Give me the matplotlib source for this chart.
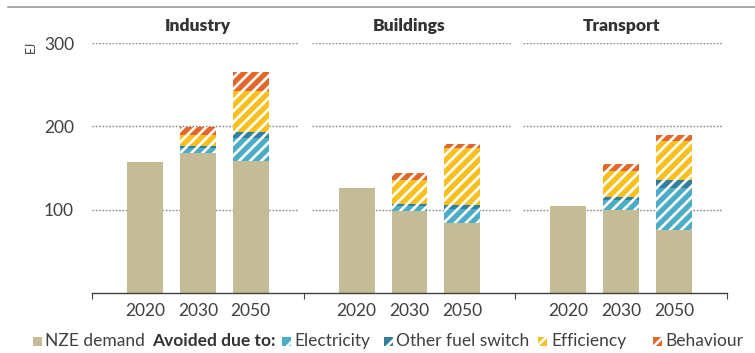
import matplotlib
matplotlib.use("Agg")
import matplotlib.pyplot as plt
from matplotlib.patches import Rectangle
from matplotlib.lines import Line2D
import numpy as np

# ---------------- data ----------------
sectors = ["Industry", "Buildings", "Transport"]
years = ["2020", "2030", "2050"]
nze_demand = [[157, 168, 158], [126, 98, 84], [105, 100, 76]]
electricity = [[0, 6, 28], [0, 7, 17], [0, 12, 50]]
other_fuel_switch = [[0, 2, 7], [0, 2, 5], [0, 3, 10]]
efficiency = [[0, 14, 49], [0, 29, 68], [0, 31, 46]]
behaviour = [[0, 9, 23], [0, 8, 5], [0, 9, 8]]
y_ticks = [100, 200, 300]

# ---------------- style ----------------
plt.rcParams['font.family'] = ['Lato', 'DejaVu Sans']
plt.rcParams['hatch.linewidth'] = 1.9
C_NZE = "#c4bc96"
C_ELEC = "#4bacc6"
C_OFS = "#2f7f9f"
C_EFF = "#f8c01e"
C_BEH = "#e2672b"
TXT = "#404040"
HATCH = "///"

fig = plt.figure(figsize=(7.55, 3.53), dpi=100)
ax = fig.add_axes([92/755, 60/353, 635/755, 250/353])

panel_w = 4
bar_w = 0.68
for p in range(len(sectors)):
    xs = p * panel_w + np.arange(1, 4)
    x0 = p * panel_w + (0.0 if p == 0 else 0.15)
    x1 = p * panel_w + 3.9
    for yt in y_ticks:
        ax.hlines(yt, x0, x1, colors="#8a8a8a", linestyles=(0, (1.2, 1.2)), lw=1.0, zorder=0)
    bottom = np.zeros(3)
    ax.bar(xs, nze_demand[p], bar_w, color=C_NZE, lw=0, zorder=2)
    bottom += np.array(nze_demand[p])
    for vals, col in [(electricity, C_ELEC), (other_fuel_switch, C_OFS),
                      (efficiency, C_EFF), (behaviour, C_BEH)]:
        v = np.array(vals[p])
        ax.bar(xs, v, bar_w, bottom=bottom, color=col, edgecolor="white",
               hatch=HATCH, lw=0, zorder=2)
        bottom += v
    ax.text(p * panel_w + 2, 320, sectors[p], ha="center", va="center",
            fontsize=12.5, fontweight="heavy", color="#333333")

ax.set_xlim(0, 12)
ax.set_ylim(0, 300)
for s in ["left", "right", "top"]:
    ax.spines[s].set_visible(False)
ax.spines["bottom"].set_color("#404040")
ax.spines["bottom"].set_linewidth(1.0)

ax.set_xticks([0, 4, 8, 12])
ax.set_xticklabels([])
ax.tick_params(axis="x", which="major", length=4, direction="out", color="#404040")
minor = [p * panel_w + i for p in range(3) for i in (1, 2, 3)]
ax.set_xticks(minor, minor=True)
ax.set_xticklabels(years * 3, minor=True, fontsize=12.5, color=TXT)
ax.tick_params(axis="x", which="minor", length=0, pad=7)

ax.set_yticks(y_ticks)
ax.set_yticklabels([str(v) for v in y_ticks], fontsize=12.5, color=TXT)
ax.tick_params(axis="y", length=0, pad=13)

fig.text(31/755, 1 - 47/353, "EJ", rotation=90, ha="center", va="center",
         fontsize=9, color=TXT)

# top rule
fig.add_artist(Line2D([8/755, 1.0], [1 - 7/353, 1 - 7/353], color="#9a9a9a", lw=1.2))

# ---------------- legend ----------------
ly = 1 - 341/353
sq = 9
def patch(xpx, col, hatch=None):
    r = Rectangle((xpx/755, ly - sq/2/353), sq/755, sq/353, transform=fig.transFigure,
                  facecolor=col, edgecolor="white" if hatch else col, hatch=hatch, lw=0)
    fig.add_artist(r)

fs = 12.5
patch(33, C_NZE)
fig.text(45/755, ly, "NZE demand", ha="left", va="center", fontsize=fs, color=TXT)
fig.text(152/755, ly, "Avoided due to:", ha="left", va="center", fontsize=fs,
         fontweight="bold", color="#333333")
patch(282, C_ELEC, "//")
fig.text(294/755, ly, "Electricity", ha="left", va="center", fontsize=fs, color=TXT)
patch(384, C_OFS, "//")
fig.text(396/755, ly, "Other fuel switch", ha="left", va="center", fontsize=fs, color=TXT)
patch(538, C_EFF, "//")
fig.text(551/755, ly, "Efficiency", ha="left", va="center", fontsize=fs, color=TXT)
patch(653, C_BEH, "//")
fig.text(665/755, ly, "Behaviour", ha="left", va="center", fontsize=fs, color=TXT)

fig.savefig("out.png", dpi=100)
